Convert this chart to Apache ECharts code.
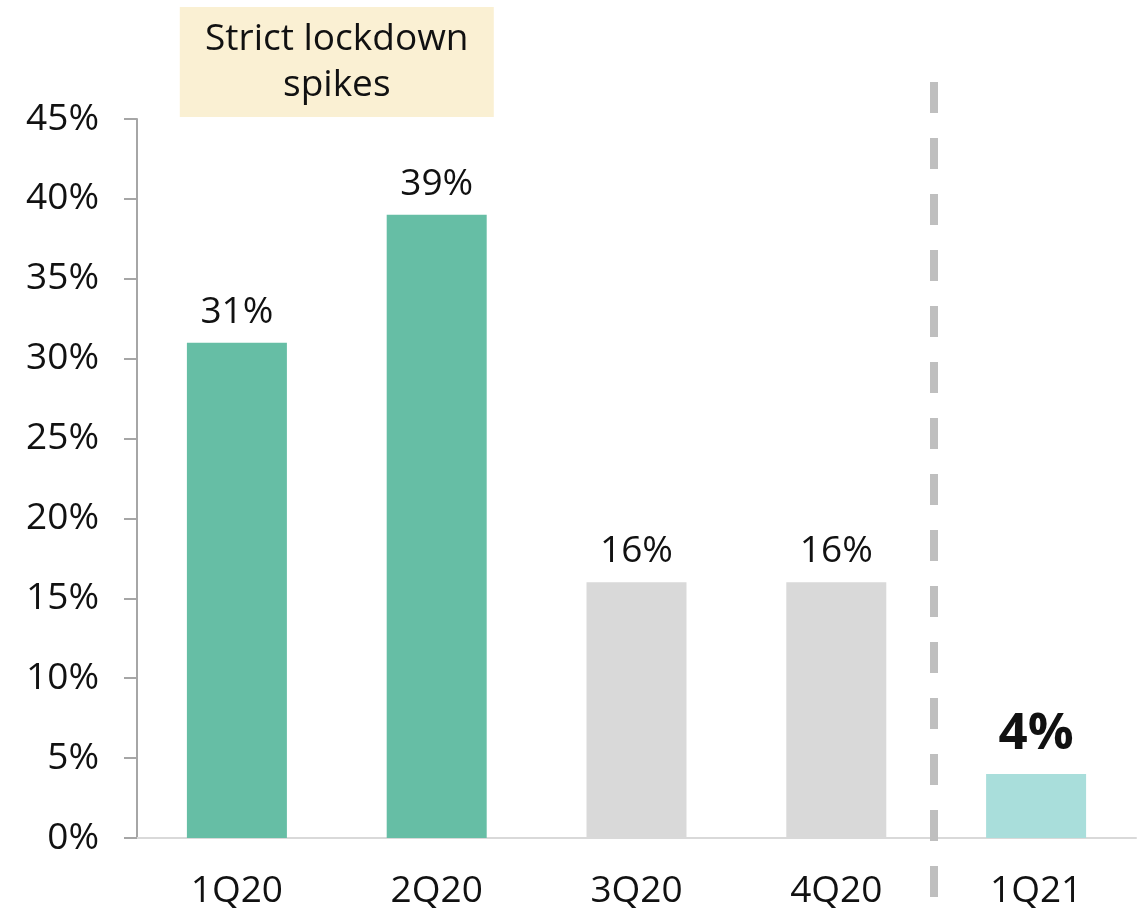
<!DOCTYPE html>
<html>
<head>
<meta charset="utf-8">
<script src="https://cdn.jsdelivr.net/npm/echarts@6/dist/echarts.min.js"></script>
<style>
  html, body { margin: 0; padding: 0; background: #fff; }
  #chart { width: 1143px; height: 915px; }
</style>
</head>
<body>
<div id="chart"></div>
<script>
// Quarterly share values (percent)
const quarters = ['1Q20', '2Q20', '3Q20', '4Q20', '1Q21'];
const shares = [31, 39, 16, 16, 4];
const barColors = ['#66BEA5', '#66BEA5', '#D9D9D9', '#D9D9D9', '#A9DEDB'];
const yTicks = { min: 0, max: 45, step: 5 };
const noteText = 'Strict lockdown\nspikes';

const FONT = '"Open Sans", "Noto Sans", sans-serif';
const chart = echarts.init(document.getElementById('chart'), null, { renderer: 'canvas' });

const barData = shares.map((v, i) => {
  const item = { value: v, itemStyle: { color: barColors[i] } };
  if (i === shares.length - 1) {
    item.label = { fontSize: 51, fontWeight: 'bold', distance: 14 };
  }
  return item;
});

chart.setOption({
  animation: false,
  grid: { left: 137, right: 7, top: 119, bottom: 77, containLabel: false },
  xAxis: {
    type: 'category',
    data: quarters,
    axisLine: { lineStyle: { color: '#D9D9D9', width: 2 } },
    axisTick: { show: false },
    axisLabel: { color: '#111', fontFamily: FONT, fontSize: 37, margin: 35 }
  },
  yAxis: {
    type: 'value',
    min: yTicks.min,
    max: yTicks.max,
    interval: yTicks.step,
    axisLine: { show: true, lineStyle: { color: '#A6A6A6', width: 2 } },
    axisTick: { show: true, length: 13, lineStyle: { color: '#A6A6A6', width: 2 } },
    splitLine: { show: false },
    axisLabel: { color: '#111', fontFamily: FONT, fontSize: 37, margin: 38, formatter: '{value}%' }
  },
  series: [{
    type: 'bar',
    data: barData,
    barWidth: 100,
    label: {
      show: true,
      position: 'top',
      distance: 12,
      color: '#111',
      fontFamily: FONT,
      fontSize: 37,
      formatter: p => p.value + '%'
    }
  }]
});

// Divider between 2020 and 2021, and the annotation box over the first two quarters
const px = i => chart.convertToPixel({ xAxisIndex: 0 }, i);
const dividerX = Math.round((px(3) + px(4)) / 2) - 2;
const noteCenter = (px(0) + px(1)) / 2;
const boxW = 314, boxH = 110;

chart.setOption({
  graphic: [
    {
      type: 'line',
      shape: { x1: dividerX, y1: 82, x2: dividerX, y2: 905 },
      style: { stroke: '#BFBFBF', lineWidth: 8, lineDash: [31, 25] },
      z: 10
    },
    {
      type: 'rect',
      shape: { x: noteCenter - boxW / 2, y: 7, width: boxW, height: boxH },
      style: { fill: '#FAF0D3' },
      z: 10
    },
    {
      type: 'text',
      x: noteCenter,
      y: 7 + boxH / 2,
      style: {
        text: noteText,
        fill: '#111',
        font: '37px ' + FONT,
        align: 'center',
        verticalAlign: 'middle',
        lineHeight: 46
      },
      z: 11
    }
  ]
});
</script>
</body>
</html>
